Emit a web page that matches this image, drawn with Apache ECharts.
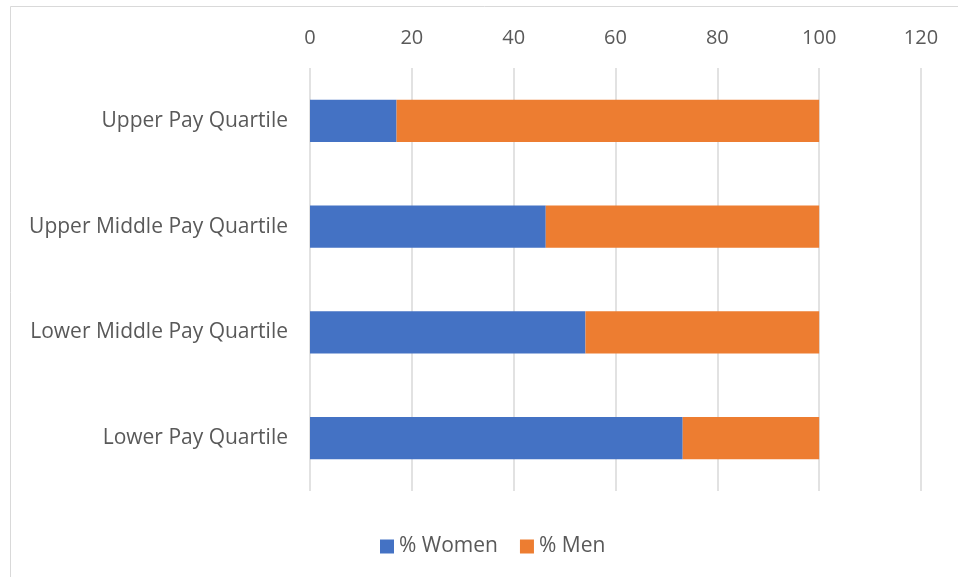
<!DOCTYPE html>
<html><head><meta charset="utf-8">
<script src="https://cdn.jsdelivr.net/npm/echarts@6/dist/echarts.min.js"></script>
<style>html,body{margin:0;padding:0;background:#fff}#c{width:958px;height:577px}</style>
</head><body><div id="c"></div>
<script>
const categories = ['Lower Pay Quartile','Lower Middle Pay Quartile','Upper Middle Pay Quartile','Upper Pay Quartile'];
const women = [73.2, 54.1, 46.3, 17.0];
const men = [26.8, 45.9, 53.7, 83.0];
const seriesNames = ['% Women','% Men'];
const xTicks = {min:0, max:120, interval:20};

const chart = echarts.init(document.getElementById('c'));
const font = 'Open Sans';
chart.setOption({
  animation:false,
  color:['#4472C4','#ED7D31'],
  graphic:[{type:'rect',shape:{x:10.5,y:6.5,width:1000,height:1000},style:{fill:'none',stroke:'#d9d9d9',lineWidth:1},silent:true,z:-1}],
  grid:{left:310,right:37,top:68,bottom:86},
  legend:{bottom:15,left:375,itemWidth:14,itemHeight:14,itemGap:22,icon:'rect',
    textStyle:{fontFamily:font,fontSize:21,color:'#595959'},data:seriesNames},
  xAxis:{type:'value',position:'top',min:xTicks.min,max:xTicks.max,interval:xTicks.interval,
    axisLine:{show:false},axisTick:{show:false},
    axisLabel:{fontFamily:font,fontSize:20,color:'#595959',margin:20},
    splitLine:{lineStyle:{color:'#d9d9d9',width:1.5}}},
  yAxis:{type:'category',data:categories,axisLine:{show:false},axisTick:{show:false},
    axisLabel:{fontFamily:font,fontSize:21,color:'#595959',margin:22}},
  series:[
    {name:seriesNames[0],type:'bar',stack:'a',barWidth:'40%',data:women},
    {name:seriesNames[1],type:'bar',stack:'a',barWidth:'40%',data:men}
  ]
});
</script></body></html>
